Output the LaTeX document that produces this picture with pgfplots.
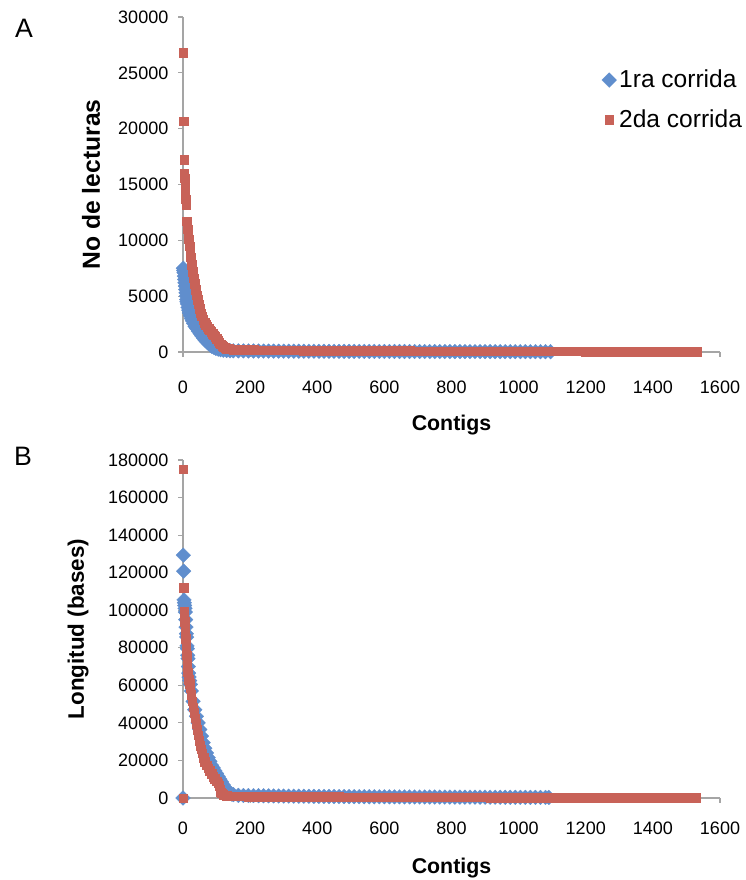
\documentclass[border=0pt]{standalone}
\usepackage{fontspec}
\setmainfont{Liberation Sans}
\usepackage{pgfplots}
\usepackage{pgfplotstable}
\pgfplotsset{compat=1.18}
\definecolor{serA}{RGB}{96,142,205}
\definecolor{serB}{RGB}{200,98,88}
\definecolor{axgray}{RGB}{165,165,165}

% Panel A: No de lecturas, 1ra corrida
\pgfplotstableread{
c v
1 7500
2 7300
3 7100
4 6800
5 6500
6 6200
7 5900
8 5600
9 5300
10 5000
11 4700
12 4500
13 4300
15 4000
17 3750
19 3500
22 3250
25 3000
28 2800
32 2550
36 2300
41 2100
46 1850
51 1650
56 1450
61 1250
66 1050
71 900
76 750
81 620
86 500
92 400
98 320
105 250
112 200
120 160
130 130
140 110
150 105
165 100
180 96
195 92
210 89
225 86
240 83
255 80
270 78
285 76
300 74
315 72
330 70
345 68
360 66
375 65
390 63
405 62
420 60
435 59
450 58
465 56
480 55
495 54
510 53
525 52
540 51
555 50
570 49
585 48
600 47
615 46
630 45
645 44
660 43
675 42
690 41
705 40
720 40
735 39
750 38
765 37
780 37
795 36
810 35
825 35
840 34
855 33
870 33
885 32
900 31
915 31
930 30
945 30
960 29
975 28
990 28
1005 27
1020 27
1035 26
1050 26
1065 25
1080 25
1095 24
}\lectA

% Panel A: No de lecturas, 2da corrida
\pgfplotstableread{
c v
1 26830
2 20660
3 17220
4 16020
5 15550
6 15120
7 14460
8 13700
9 13400
10 13200
11 11700
12 11400
13 11200
14 11000
15 10600
17 10100
19 9500
21 9000
23 8500
26 7800
29 7200
32 6600
35 6100
38 5600
41 5100
44 4700
47 4300
50 3900
53 3500
56 3200
60 2900
64 2650
68 2450
72 2250
76 2100
80 1950
84 1800
88 1650
92 1500
96 1380
100 1200
104 1000
108 850
112 700
116 560
120 460
125 380
130 320
136 280
143 250
150 230
165 215
180 205
195 200
210 190
225 185
240 180
255 175
270 170
285 165
300 160
315 155
330 150
345 148
360 145
375 142
390 140
405 137
420 135
435 132
450 130
465 128
480 125
495 123
510 120
525 118
540 116
555 114
570 112
585 110
600 108
615 106
630 104
645 102
660 100
675 98
690 96
705 95
720 93
735 92
750 90
765 88
780 87
795 85
810 84
825 82
840 81
855 80
870 78
885 77
900 76
915 75
930 74
945 72
960 71
975 70
990 69
1005 68
1020 67
1035 66
1050 65
1065 64
1080 63
1095 62
1110 61
1125 60
1140 59
1155 58
1170 57
1185 56
1200 55
1215 54
1230 53
1245 52
1260 51
1275 50
1290 49
1305 48
1320 47
1335 46
1350 45
1365 44
1380 43
1395 42
1410 41
1425 40
1440 39
1455 38
1470 37
1485 36
1500 35
1515 34
1530 33
}\lectB

% Panel B: Longitud (bases), 1ra corrida
\pgfplotstableread{
c v
0 0
1 129300
2 120800
3 105500
4 104000
5 102500
6 101000
7 99000
8 95000
9 91000
10 87500
11 85700
12 81000
13 79500
14 76000
15 74200
16 70000
17 66500
18 64400
20 62500
22 60500
25 57000
30 51500
35 47000
40 43500
45 40000
50 36500
55 33000
60 29500
65 26500
70 24000
75 21500
80 19500
85 17500
90 16000
95 14500
100 13000
105 11500
110 10000
115 8500
120 7000
125 5600
130 4300
135 3300
140 2600
145 2100
150 1800
165 1400
180 1350
195 1300
210 1260
225 1220
240 1180
255 1140
270 1100
285 1070
300 1040
315 1010
330 980
345 950
360 925
375 900
390 875
405 850
420 830
435 810
450 790
465 770
480 750
495 730
510 715
525 700
540 685
555 670
570 655
585 640
600 625
615 612
630 600
645 588
660 576
675 564
690 552
705 540
720 530
735 520
750 510
765 500
780 490
795 480
810 470
825 460
840 452
855 444
870 436
885 428
900 420
915 412
930 404
945 396
960 388
975 380
990 372
1005 364
1020 356
1035 348
1050 340
1065 332
1080 324
1090 318
}\longA

% Panel B: Longitud (bases), 2da corrida
\pgfplotstableread{
c v
0 0
1 175200
2 111900
3 99500
4 97000
5 94000
6 91000
7 88000
8 85000
9 82000
10 79000
11 76000
12 73000
13 70000
14 67000
15 65000
17 63000
19 61000
21 58500
24 55000
27 51500
30 48500
33 45500
36 42500
39 39500
42 36500
45 33500
48 30500
51 28000
54 26000
57 24000
61 21500
65 19500
70 17500
75 16000
80 14500
85 13000
90 11500
95 10200
100 9000
105 7800
108 6500
110 4500
112 3200
115 2500
120 1900
125 1500
130 1250
140 1050
150 950
165 900
180 880
195 860
210 840
225 820
240 800
255 780
270 760
285 745
300 730
315 715
330 700
345 685
360 670
375 655
390 640
405 630
420 620
435 610
450 600
465 590
480 580
495 570
510 560
525 550
540 540
555 530
570 520
585 510
600 500
615 492
630 484
645 476
660 468
675 460
690 452
705 444
720 436
735 428
750 420
765 412
780 404
795 396
810 388
825 380
840 372
855 364
870 356
885 348
900 340
915 333
930 326
945 319
960 312
975 305
990 298
1005 291
1020 284
1035 277
1050 270
1065 264
1080 258
1095 252
1110 246
1125 240
1140 234
1155 228
1170 222
1185 216
1200 210
1215 205
1230 200
1245 195
1260 190
1275 185
1290 180
1305 175
1320 170
1335 165
1350 160
1365 156
1380 152
1395 148
1410 144
1425 140
1440 136
1455 132
1470 128
1485 124
1500 120
1515 116
1528 112
}\longB

\pgfplotsset{
  excel/.style={
    scale only axis, width=402.75pt, anchor=south west,
    axis lines*=left,
    axis line style={axgray, line width=1pt},
    tick style={axgray, line width=0.8pt},
    tick align=outside, major tick length=3.5pt,
    xmin=0, xmax=1600, xtick={0,200,...,1600},
    scaled ticks=false,
    /pgf/number format/fixed,
    /pgf/number format/precision=0,
    /pgf/number format/1000 sep={},
    /pgf/number format/assume math mode=true,
    tick label style={font=\fontsize{13.5}{16}\selectfont, black},
    yticklabel shift=4pt,
    label style={font=\bfseries\fontsize{16}{19}\selectfont},
    xlabel={Contigs},
    clip=false,
  },
  uno/.style={only marks, mark=square*, mark size=3.9pt, color=serA,
    mark options={rotate=45, fill=serA, draw=serA, line width=0.2pt}},
  dos/.style={only marks, mark=square*, mark size=3.2pt, color=serB,
    mark options={fill=serB, draw=serB, line width=0.2pt}},
}

\begin{document}
\begin{tikzpicture}
\path[use as bounding box] (0,0) rectangle (558.75pt,660pt);

\node[font=\fontsize{20}{24}\selectfont] at (18pt,639pt) {A};
\node[font=\fontsize{20}{24}\selectfont] at (17.25pt,318pt) {B};

\begin{axis}[excel,
    at={(137.25pt,396pt)}, height=251.25pt,
    ymin=0, ymax=30000, ytick={0,5000,...,30000},
    xticklabel shift=15pt,
    ylabel={No de lecturas},
    ylabel style={at={(axis description cs:-0.171,0.5)}, anchor=center,
      font=\bfseries\fontsize{18.5}{22}\selectfont},
    xlabel style={at={(axis description cs:0.5,-0.218)}, anchor=center},
    legend style={draw=none, fill=none, at={(axis description cs:0.772,0.858)},
      anchor=north west, font=\fontsize{18.4}{22}\selectfont, row sep=11pt},
    legend cell align=left,
]
\addplot[uno] table[x=c, y=v] {\lectA};
\addlegendentry{1ra corrida}
\addplot[dos] table[x=c, y=v] {\lectB};
\addlegendentry{2da corrida}
\end{axis}

\begin{axis}[excel,
    at={(137.25pt,61.5pt)}, height=253.5pt,
    ymin=0, ymax=180000, ytick={0,20000,...,180000},
    xticklabel shift=11pt,
    ylabel={Longitud (bases)},
    ylabel style={at={(axis description cs:-0.1955,0.5)}, anchor=center,
      font=\bfseries\fontsize{16.8}{20}\selectfont},
    xlabel style={at={(axis description cs:0.5,-0.207)}, anchor=center},
]
\addplot[uno] table[x=c, y=v] {\longA};
\addplot[dos] table[x=c, y=v] {\longB};
\end{axis}
\end{tikzpicture}
\end{document}
